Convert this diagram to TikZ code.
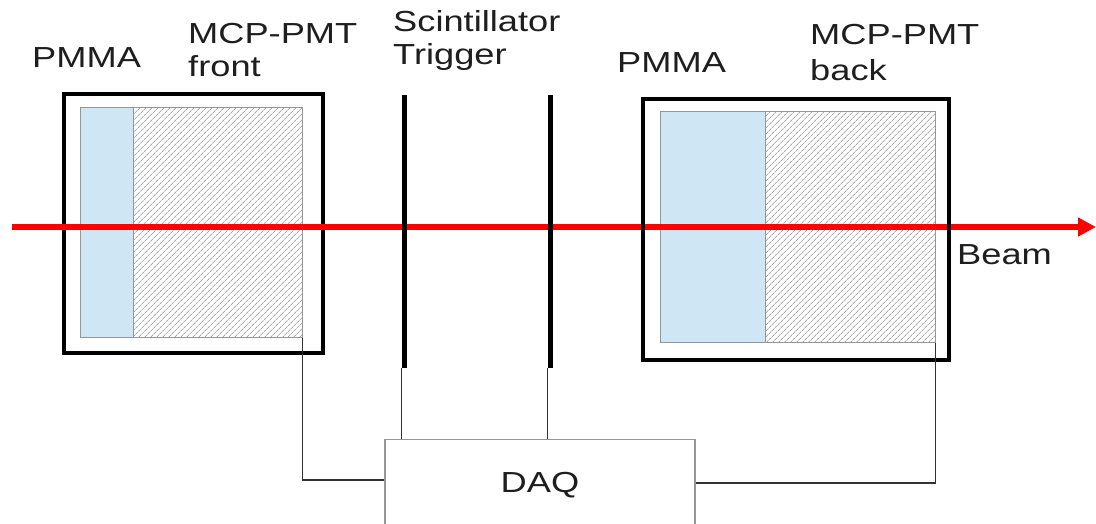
\documentclass[tikz,border=0pt]{standalone}
\usepackage{fontspec}
\setmainfont{Liberation Sans}[FakeStretch=1.25]
\usetikzlibrary{patterns.meta,arrows.meta}
\definecolor{pmma}{RGB}{207,230,244}
\definecolor{txt}{RGB}{30,30,30}
\definecolor{edgegray}{RGB}{150,150,150}
\definecolor{hatchgray}{RGB}{125,125,125}
\definecolor{wiregray}{RGB}{50,50,50}
\newcommand\lblfont{\fontsize{29}{33}\selectfont}
\begin{document}
\begin{tikzpicture}[x=1pt,y=-1pt,
  outerbox/.style={draw=black,line width=4pt,inner sep=0pt,rectangle},
  pmmabox/.style={fill=pmma,draw=edgegray,line width=1pt,inner sep=0pt,rectangle},
  mcpbox/.style={pattern={Lines[angle=45,distance=4pt,line width=0.6pt]},pattern color=hatchgray,draw=edgegray,line width=1pt,inner sep=0pt,rectangle},
  barline/.style={fill=black,inner sep=0pt,minimum width=5pt,rectangle},
  beamline/.style={draw=red,line width=5.5pt,-{Triangle[length=18pt,width=18pt]}},
  wire/.style={draw=wiregray,line width=1.1pt},
  daqbox/.style={draw=edgegray,line width=1.2pt,fill=white,inner sep=0pt,rectangle},
  lbl/.style={font=\lblfont,text=txt,inner sep=0pt,anchor=base west,align=left}
]
\useasboundingbox[fill=white] (0,0) rectangle (1096,524);

% left detector
\node[pmmabox,minimum width=53pt,minimum height=229pt] (pmmaL) at (106.5,222.5) {};
\node[mcpbox,minimum width=169pt,minimum height=229pt] (mcpL) at (217.5,222.5) {};
\node[outerbox,minimum width=259pt,minimum height=259pt] (boxL) at (193.5,223.5) {};

% right detector inner
\node[pmmabox,minimum width=105pt,minimum height=230pt] (pmmaR) at (712.5,227) {};
\node[mcpbox,minimum width=170pt,minimum height=230pt] (mcpR) at (850,227) {};

% beam
\coordinate (bstart) at (12,227);
\coordinate (bend) at (1096,227);
\draw[beamline] (bstart) -- (bend);

% right detector outer
\node[outerbox,minimum width=306pt,minimum height=261pt] (boxR) at (796,229.5) {};

% scintillator bars
\node[barline,minimum height=273pt] (bar1) at (404,231.5) {};
\node[barline,minimum height=273pt] (bar2) at (550,231.5) {};

% DAQ
\node[daqbox,anchor=north,minimum width=310pt,minimum height=126pt] (daq) at (540,439) {};
\node[font=\lblfont,text=txt,inner sep=0pt,anchor=base] (daqtxt) at ([yshift=-53pt]daq.north) {DAQ};

% wires
\draw[wire] (mcpL.south east) |- ([yshift=-41pt]daq.north west);
\draw[wire] (mcpR.south east) |- ([yshift=-44pt]daq.north east);
\draw[wire] (bar1.south west) -- (bar1.south west |- daq.north);
\draw[wire] (bar2.south west) -- (bar2.south west |- daq.north);

% labels (multi-line nodes: base = baseline of last line)
\node[lbl] (lpmmaL) at (32,68) {PMMA};
\node[lbl] (lmcpL) at (188,77) {MCP-PMT\\front};
\node[lbl] (lscint) at (393,65) {Scintillator\\Trigger};
\node[lbl] (lpmmaR) at (617,73) {PMMA};
\node[lbl] (lmcpR) at (810,81) {MCP-PMT\\[3pt]back};
\node[lbl] (lbeam) at (957,265) {Beam};
\end{tikzpicture}
\end{document}
